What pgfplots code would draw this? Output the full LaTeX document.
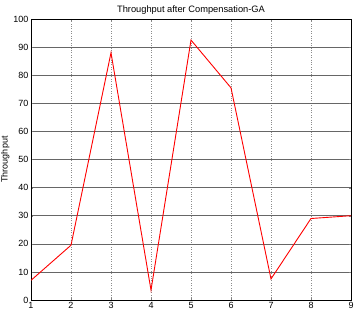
\documentclass[border=0pt]{standalone}
\usepackage{pgfplots}
\pgfplotsset{compat=1.18}
\usepackage{fontspec}
\setmainfont{Liberation Sans}
\begin{document}
\begin{tikzpicture}
\begin{axis}[
  scale only axis,
  width=320pt, height=281pt,
  xmin=1, xmax=9, ymin=0, ymax=100,
  xtick={1,...,9}, ytick={0,10,...,100},
  /pgf/number format/assume math mode=true,
  tick label style={font=\fontsize{9}{10}\selectfont},
  xticklabel style={yshift=1pt},
  yticklabel style={xshift=1pt},
  title={Throughput after Compensation-GA},
  title style={font=\fontsize{9.3}{10}\selectfont, yshift=-5pt},
  ylabel={Throughput},
  ylabel style={font=\fontsize{9}{10}\selectfont, yshift=-3pt},
  tick align=inside,
  major tick length=2pt,
  xmajorgrids, ymajorgrids,
  x grid style={dotted, black!45, line width=0.7pt},
  y grid style={black!60, line width=0.5pt},
  axis line style={black, line width=0.7pt},
]
\addplot[red, line width=0.9pt] coordinates {
(1,7) (2,19.5) (3,88) (4,3.5) (5,92.5) (6,75.5) (7,7.5) (8,29) (9,30)
};
\end{axis}
\pgfresetboundingbox
\path (current axis.south west) ++(-31pt,-18pt) coordinate (bl);
\path (current axis.north east) ++(8pt,19pt) coordinate (tr);
\path[use as bounding box] (bl) rectangle (tr);
\end{tikzpicture}
\end{document}
